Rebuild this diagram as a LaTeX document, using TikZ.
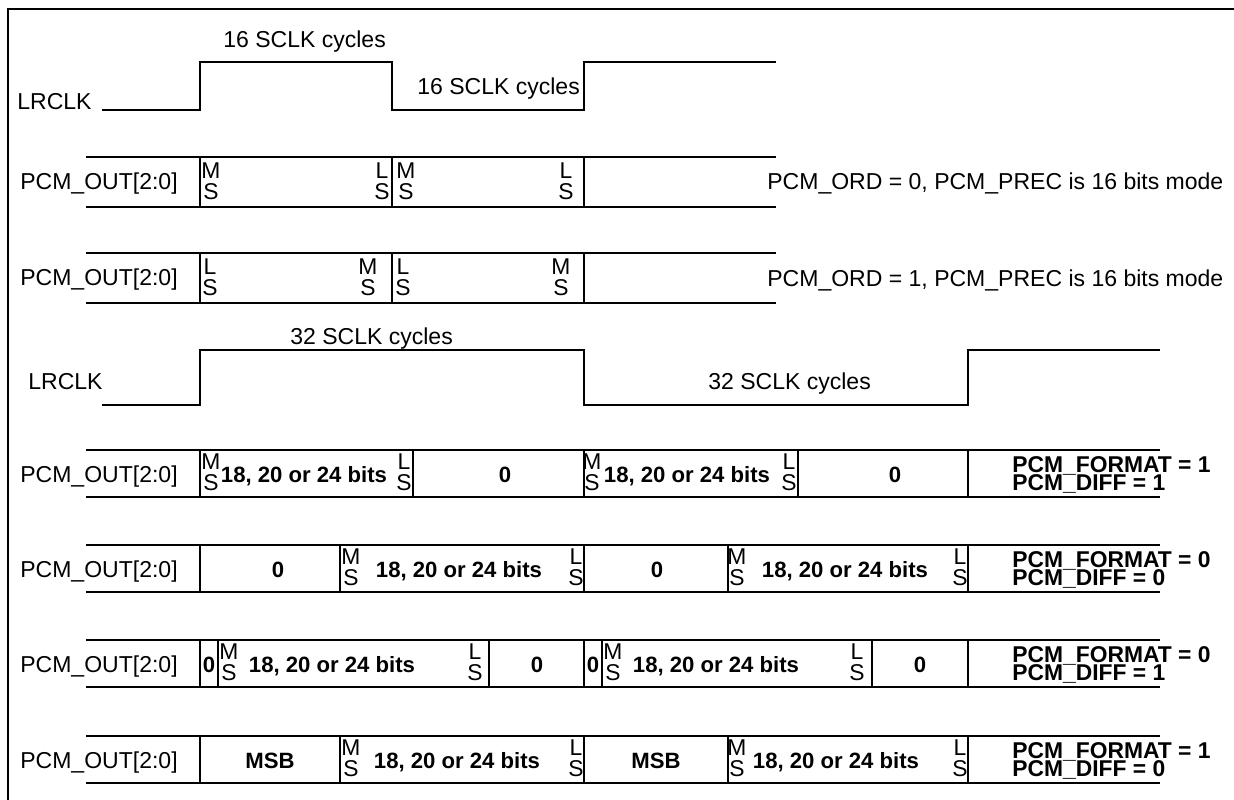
\documentclass[tikz,border=0pt]{standalone}
\usepackage{fontspec}
\setmainfont{Liberation Sans}

\tikzset{
  wave/.style={line width=1.5pt},
  sep/.style={line width=0.9pt},
  txt/.style={inner sep=0pt, font=\fontsize{13.1}{15}\selectfont},
  msls/.style={inner sep=0pt, align=center, font=\fontsize{13}{12.4}\selectfont},
  bits/.style={inner sep=0pt, anchor=base, font=\bfseries\fontsize{12.6}{15}\selectfont},
  cfg/.style={inner sep=0pt, anchor=base west, font=\bfseries\fontsize{13}{15}\selectfont},
}

\begin{document}
\begin{tikzpicture}[x=0.02cm, y=-0.02cm]
  \useasboundingbox (0,0) rectangle (1234,800);
  \draw[line width=1.1pt] (8,800) -- (8,9) -- (1234,9);

  % 16 bit frames
  \draw[wave] (102,110) -- (200,110) -- (200,62) -- (392,62) -- (392,110)
    -- (584,110) -- (584,62) -- (776,62);
  \node[txt, anchor=base west] (lr1) at (17,110) {LRCLK};
  \node[txt, anchor=base west] (cyc1) at (223,48) {16 SCLK cycles};
  \node[txt, anchor=base west] (cyc2) at (417,95) {16 SCLK cycles};
  \foreach \y [count=\r] in {157,253} {
    \draw[wave] (86,\y) -- (776,\y) (86,\y+50) -- (776,\y+50);
    \foreach \x in {200,392,584}
      \draw[sep] (\x,\y) -- (\x,\y+50);
    \node[txt, anchor=base west] (pcm\r) at (20,\y+33) {PCM\_OUT[2:0]};
  }
  \foreach \x/\a/\b [count=\i] in {211/M/S,382/L/S,406/M/S,566/L/S}
    \node[msls, anchor=north] (r1s\i) at (\x,162) {\a\\\b};
  \foreach \x/\a/\b [count=\i] in {210/L/S,368/M/S,403/L/S,561/M/S}
    \node[msls, anchor=north] (r2s\i) at (\x,258) {\a\\\b};
  \node[txt, anchor=base west] (ord0) at (767,190) {PCM\_ORD = 0, PCM\_PREC is 16 bits mode};
  \node[txt, anchor=base west] (ord1) at (767,287) {PCM\_ORD = 1, PCM\_PREC is 16 bits mode};

  % 32 bit frames
  \draw[wave] (102,405) -- (200,405) -- (200,350) -- (584,350) -- (584,405)
    -- (968,405) -- (968,350) -- (1160,350);
  \node[txt, anchor=base west] (lr2) at (28,390) {LRCLK};
  \node[txt, anchor=base west] (cyc3) at (290,345) {32 SCLK cycles};
  \node[txt, anchor=base west] (cyc4) at (708,390) {32 SCLK cycles};
  \foreach \y/\f/\d [count=\r from 5] in {450/1/1,545/0/0,640/0/1,736/1/0} {
    \draw[wave] (86,\y) -- (1160,\y) (86,\y+47) -- (1160,\y+47);
    \node[txt, anchor=base west] (pcm\r) at (20,\y+32) {PCM\_OUT[2:0]};
    \node[cfg] (fmt\r) at (1012,\y+22) {PCM\_FORMAT = \f};
    \node[cfg] (dif\r) at (1012,\y+40) {PCM\_DIFF = \d};
  }
  % PCM_FORMAT = 1, PCM_DIFF = 1
  \foreach \x in {200,413,584,798,968}
    \draw[sep] (\x,450) -- (\x,497);
  \foreach \x/\a/\b [count=\i] in {211/M/S,404/L/S,592/M/S,789/L/S}
    \node[msls, anchor=north] (r5s\i) at (\x,453) {\a\\\b};
  \node[bits] (r5b1) at (304,482) {18, 20 or 24 bits};
  \node[bits] (r5b2) at (687,482) {18, 20 or 24 bits};
  \node[bits] (r5z1) at (505,482) {0};
  \node[bits] (r5z2) at (895,482) {0};
  % PCM_FORMAT = 0, PCM_DIFF = 0
  \foreach \x in {200,340,584,728,968}
    \draw[sep] (\x,545) -- (\x,592);
  \foreach \x/\a/\b [count=\i] in {351/M/S,576/L/S,737/M/S,960/L/S}
    \node[msls, anchor=north] (r6s\i) at (\x,548) {\a\\\b};
  \node[bits] (r6b1) at (459,577) {18, 20 or 24 bits};
  \node[bits] (r6b2) at (845,577) {18, 20 or 24 bits};
  \node[bits] (r6z1) at (278,577) {0};
  \node[bits] (r6z2) at (657,577) {0};
  % PCM_FORMAT = 0, PCM_DIFF = 1
  \foreach \x in {200,218,489,584,602,872,968}
    \draw[sep] (\x,640) -- (\x,687);
  \foreach \x/\a/\b [count=\i] in {229/M/S,475/L/S,613/M/S,857/L/S}
    \node[msls, anchor=north] (r7s\i) at (\x,643) {\a\\\b};
  \node[bits] (r7b1) at (332,672) {18, 20 or 24 bits};
  \node[bits] (r7b2) at (716,672) {18, 20 or 24 bits};
  \foreach \x [count=\i] in {209,537,593,920}
    \node[bits] (r7z\i) at (\x,672) {0};
  % PCM_FORMAT = 1, PCM_DIFF = 0
  \foreach \x in {200,340,584,728,968}
    \draw[sep] (\x,736) -- (\x,783);
  \foreach \x/\a/\b [count=\i] in {351/M/S,576/L/S,737/M/S,960/L/S}
    \node[msls, anchor=north] (r8s\i) at (\x,739) {\a\\\b};
  \node[bits] (r8b1) at (457,768) {18, 20 or 24 bits};
  \node[bits] (r8b2) at (836,768) {18, 20 or 24 bits};
  \node[bits] (r8m1) at (270,768) {MSB};
  \node[bits] (r8m2) at (656,768) {MSB};
\end{tikzpicture}
\end{document}
